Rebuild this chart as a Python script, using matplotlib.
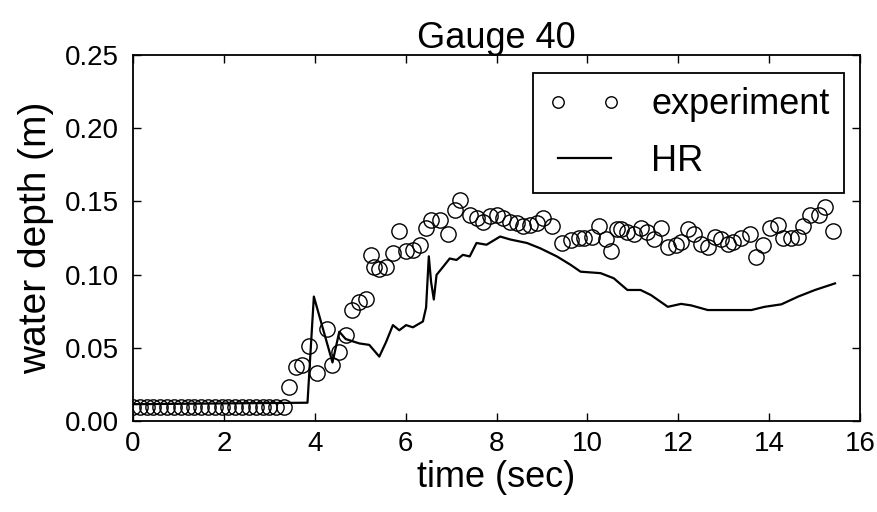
import matplotlib
matplotlib.use("Agg")
import matplotlib.pyplot as plt
import numpy as np

plt.rcParams['font.family'] = ['Liberation Sans', 'DejaVu Sans']

# experiment data (time s, depth m)
exp_t_flat = [0.0, 0.15, 0.30, 0.45, 0.60, 0.75, 0.90, 1.05, 1.20, 1.35, 1.50, 1.65,
              1.80, 1.95, 2.10, 2.25, 2.40, 2.55, 2.70, 2.85, 3.00, 3.15, 3.32]
exp_h_flat = [0.0095] * len(exp_t_flat)
exp_t_rise = [3.43, 3.58, 3.72, 3.87, 4.06, 4.28, 4.39, 4.54, 4.68, 4.83, 4.98, 5.13,
              5.24, 5.31, 5.42, 5.57, 5.72, 5.86, 6.01, 6.16, 6.31, 6.45, 6.56, 6.75,
              6.93, 7.08, 7.19]
exp_h_rise = [0.023, 0.037, 0.038, 0.051, 0.033, 0.063, 0.038, 0.047, 0.059, 0.076, 0.0815, 0.083,
              0.1135, 0.105, 0.104, 0.1055, 0.115, 0.130, 0.116, 0.117, 0.120, 0.132, 0.137, 0.137,
              0.128, 0.144, 0.151]
exp_t_late = [7.41, 7.56, 7.71, 7.86, 8.00, 8.15, 8.30, 8.44, 8.59, 8.74, 8.89, 9.03, 9.22,
              9.44, 9.63, 9.81, 9.92, 10.11, 10.25, 10.40, 10.51, 10.66, 10.73, 10.88, 11.03,
              11.17, 11.32, 11.47, 11.62, 11.77, 11.95, 12.06, 12.21, 12.35, 12.51, 12.65,
              12.80, 12.95, 13.09, 13.20, 13.39, 13.57, 13.72, 13.87, 14.01, 14.20, 14.31,
              14.49, 14.64, 14.75, 14.90, 15.09, 15.23, 15.40]
exp_h_late = [0.141, 0.139, 0.136, 0.140, 0.141, 0.139, 0.136, 0.135, 0.133, 0.134, 0.135, 0.139, 0.133,
              0.1216, 0.1238, 0.125, 0.125, 0.126, 0.133, 0.124, 0.116, 0.131, 0.131, 0.129, 0.128,
              0.132, 0.129, 0.124, 0.132, 0.119, 0.120, 0.122, 0.131, 0.128, 0.121, 0.119,
              0.126, 0.124, 0.121, 0.122, 0.125, 0.128, 0.112, 0.120, 0.132, 0.134, 0.125,
              0.125, 0.126, 0.133, 0.141, 0.141, 0.146, 0.130]
exp_t = exp_t_flat + exp_t_rise + exp_t_late
exp_h = exp_h_flat + exp_h_rise + exp_h_late

# HR simulation
hr_t = [0.0, 3.84, 3.98, 4.39, 4.54, 4.68, 4.98, 5.20, 5.42, 5.57, 5.72, 5.86, 6.01, 6.16,
        6.38, 6.45, 6.51, 6.56, 6.62, 6.68, 6.79, 6.97, 7.12, 7.26, 7.41, 7.56, 7.78, 8.08,
        8.30, 8.67, 8.96, 9.33, 9.63, 9.85, 10.29, 10.58, 10.88, 11.17, 11.40, 11.77, 12.06,
        12.28, 12.65, 13.17, 13.61, 13.90, 14.27, 14.64, 15.01, 15.45]
hr_h = [0.0115, 0.0125, 0.085, 0.040, 0.061, 0.056, 0.053, 0.052, 0.044, 0.054, 0.0655, 0.062,
        0.0655, 0.064, 0.068, 0.0775, 0.1125, 0.095, 0.083, 0.0998, 0.104, 0.111, 0.110, 0.1135,
        0.1124, 0.1216, 0.1204, 0.126, 0.124, 0.1216, 0.118, 0.1124, 0.1067, 0.102, 0.101,
        0.0975, 0.0895, 0.0895, 0.086, 0.078, 0.080, 0.079, 0.0758, 0.0758, 0.0758, 0.078,
        0.0797, 0.085, 0.0895, 0.094]

xticks = [0, 2, 4, 6, 8, 10, 12, 14, 16]
yticks = [0.00, 0.05, 0.10, 0.15, 0.20, 0.25]

fig = plt.figure(figsize=(8.78, 5.12), dpi=100)
ax = fig.add_axes([0.1515, 0.1777, 0.828, 0.7149])

ax.plot(exp_t, exp_h, linestyle='none', marker='o', markersize=11, markerfacecolor='none',
        markeredgecolor='black', markeredgewidth=1.0, label='experiment')
ax.plot(hr_t, hr_h, color='black', linewidth=1.6, label='HR')

ax.set_xlim(0, 16)
ax.set_ylim(0, 0.25)
ax.set_xticks(xticks)
ax.set_xticklabels([str(v) for v in xticks])
ax.set_yticks(yticks)
ax.set_yticklabels(['%.2f' % v for v in yticks])
ax.tick_params(direction='in', top=True, right=True, length=6, width=1, labelsize=20)
ax.tick_params(axis='x', pad=7)
ax.tick_params(axis='y', pad=10)
for s in ax.spines.values():
    s.set_linewidth(1.3)

ax.set_xlabel('time (sec)', fontsize=26, labelpad=2)
ax.set_ylabel('water depth (m)', fontsize=28, labelpad=8)
ax.set_title('Gauge 40', fontsize=26, pad=5)

leg = ax.legend(loc='upper right', numpoints=2, fontsize=26, fancybox=False, framealpha=1,
                edgecolor='black', borderpad=0.4, handlelength=2.07, handletextpad=0.81,
                labelspacing=0.6, markerscale=0.75, borderaxespad=0,
                bbox_to_anchor=(0.978, 0.951))
leg.get_frame().set_linewidth(1.3)

fig.savefig('out.png', dpi=100)
